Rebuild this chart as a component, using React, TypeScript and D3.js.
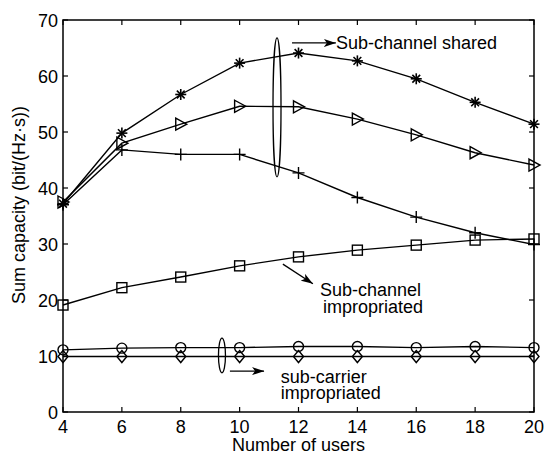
import React from 'react';
import * as d3 from 'd3';

const users = [4, 6, 8, 10, 12, 14, 16, 18, 20];
const sharedStar = [37.2, 49.8, 56.7, 62.3, 64.1, 62.7, 59.5, 55.3, 51.4];
const sharedTriangle = [37.5, 48.0, 51.4, 54.6, 54.5, 52.3, 49.5, 46.3, 44.1];
const sharedPlus = [37.0, 46.8, 46.0, 46.0, 42.7, 38.3, 34.8, 32.0, 29.9];
const improSquare = [19.1, 22.2, 24.1, 26.1, 27.7, 28.9, 29.8, 30.7, 30.9];
const carrierCircle = [11.1, 11.4, 11.5, 11.5, 11.7, 11.7, 11.5, 11.7, 11.5];
const carrierDiamond = [9.9, 9.9, 9.9, 9.9, 9.9, 9.9, 9.9, 9.9, 9.9];
const xTicks = [4, 6, 8, 10, 12, 14, 16, 18, 20];
const yTicks = [0, 10, 20, 30, 40, 50, 60, 70];

const W = 546;
const H = 456;
const margin = { top: 20, right: 12, bottom: 44, left: 63 };
const FONT = '"Liberation Sans", Arial, Helvetica, sans-serif';
const FS = 18;

type MarkerKind = 'star' | 'triangle' | 'plus' | 'square' | 'circle' | 'diamond';

const Marker: React.FC<{ kind: MarkerKind; x: number; y: number }> = ({ kind, x, y }) => {
  const common = { fill: 'none', stroke: '#000', strokeWidth: 1.4 };
  switch (kind) {
    case 'star': {
      const r = 5.5;
      const d = r * Math.SQRT1_2;
      return (
        <g transform={`translate(${x},${y})`} {...common} strokeWidth={1.6}>
          <line x1={-r} y1={0} x2={r} y2={0} />
          <line x1={0} y1={-r} x2={0} y2={r} />
          <line x1={-d} y1={-d} x2={d} y2={d} />
          <line x1={-d} y1={d} x2={d} y2={-d} />
        </g>
      );
    }
    case 'triangle':
      return <path transform={`translate(${x},${y})`} d="M-5,-6L6,0L-5,6Z" {...common} />;
    case 'plus':
      return <path transform={`translate(${x},${y})`} d="M-6,0H6M0,-6V6" {...common} />;
    case 'square':
      return <rect x={x - 5} y={y - 5} width={10} height={10} {...common} />;
    case 'circle':
      return <circle cx={x} cy={y} r={5} {...common} />;
    case 'diamond':
      return <path transform={`translate(${x},${y})`} d="M0,-6L5,0L0,6L-5,0Z" {...common} />;
  }
};

const App: React.FC = () => {
  const innerW = W - margin.left - margin.right;
  const innerH = H - margin.top - margin.bottom;

  const x = d3.scaleLinear().domain([4, 20]).range([margin.left, margin.left + innerW]);
  const y = d3.scaleLinear().domain([0, 70]).range([margin.top + innerH, margin.top]);

  const line = d3
    .line<number>()
    .x((_, i) => x(users[i]))
    .y((d) => y(d));

  const series: { values: number[]; kind: MarkerKind }[] = [
    { values: sharedStar, kind: 'star' },
    { values: sharedTriangle, kind: 'triangle' },
    { values: sharedPlus, kind: 'plus' },
    { values: improSquare, kind: 'square' },
    { values: carrierCircle, kind: 'circle' },
    { values: carrierDiamond, kind: 'diamond' },
  ];

  const x0 = x.range()[0];
  const x1 = x.range()[1];
  const y0 = y.range()[0];
  const y1 = y.range()[1];
  const tick = 5;

  return (
    <svg
      width={W}
      height={H}
      style={{ position: 'absolute', left: 0, top: 0, background: '#fff' }}
      fontFamily={FONT}
    >
      <defs>
        <marker id="arrow" viewBox="0 0 12 8" refX="12" refY="4" markerWidth="12" markerHeight="8" markerUnits="userSpaceOnUse" orient="auto">
          <path d="M0,0L12,4L0,8L3,4Z" fill="#000" />
        </marker>
      </defs>

      {/* data lines */}
      {series.map((s, i) => (
        <g key={i}>
          <path d={line(s.values) || ''} fill="none" stroke="#000" strokeWidth={1.4} />
          {s.values.map((v, j) => (
            <Marker key={j} kind={s.kind} x={x(users[j])} y={y(v)} />
          ))}
        </g>
      ))}

      {/* axes box */}
      <rect x={x0} y={y1} width={x1 - x0} height={y0 - y1} fill="none" stroke="#000" strokeWidth={1.5} />
      {xTicks.map((t) => (
        <g key={`xt${t}`}>
          <line x1={x(t)} x2={x(t)} y1={y0} y2={y0 - tick} stroke="#000" strokeWidth={1.2} />
          <line x1={x(t)} x2={x(t)} y1={y1} y2={y1 + tick} stroke="#000" strokeWidth={1.2} />
          <text x={x(t)} y={y0 + 21} textAnchor="middle" fontSize={FS}>
            {t}
          </text>
        </g>
      ))}
      {yTicks.map((t) => (
        <g key={`yt${t}`}>
          <line x1={x0} x2={x0 + tick} y1={y(t)} y2={y(t)} stroke="#000" strokeWidth={1.2} />
          <line x1={x1} x2={x1 - tick} y1={y(t)} y2={y(t)} stroke="#000" strokeWidth={1.2} />
          <text x={x0 - 5} y={y(t) + 6.5} textAnchor="end" fontSize={FS}>
            {t}
          </text>
        </g>
      ))}

      {/* axis labels */}
      <text x={(x0 + x1) / 2} y={H - 5} textAnchor="middle" fontSize={FS}>
        Number of users
      </text>
      <text transform={`translate(25,205) rotate(-90)`} textAnchor="middle" fontSize={FS}>
        Sum capacity (bit/(Hz·s))
      </text>

      {/* annotations */}
      <ellipse cx={x(11.27)} cy={y(54.4)} rx={4} ry={y(42.0) - y(54.4)} fill="none" stroke="#000" strokeWidth={1.3} />
      <line x1={x(11.78)} y1={y(65.9)} x2={x(13.27)} y2={y(65.9)} stroke="#000" strokeWidth={1.3} markerEnd="url(#arrow)" />
      <text x={x(13.27)} y={y(65.9) + 6.5} fontSize={FS}>
        Sub-channel shared
      </text>

      <line x1={x(11.47)} y1={y(26.4)} x2={x(12.49)} y2={y(22.9)} stroke="#000" strokeWidth={1.3} markerEnd="url(#arrow)" />
      <text x={x(12.73)} y={296} fontSize={FS}>
        Sub-channel
      </text>
      <text x={x(12.83)} y={313} fontSize={FS}>
        impropriated
      </text>

      <ellipse cx={x(9.4)} cy={y(10.1)} rx={3.5} ry={y(7.0) - y(10.1)} fill="none" stroke="#000" strokeWidth={1.3} />
      <line x1={x(9.67)} y1={y(7.3)} x2={x(10.83)} y2={y(7.3)} stroke="#000" strokeWidth={1.3} markerEnd="url(#arrow)" />
      <text x={x(11.4)} y={383} fontSize={FS}>
        sub-carrier
      </text>
      <text x={x(11.4)} y={399} fontSize={FS}>
        impropriated
      </text>
    </svg>
  );
};

export default App;
